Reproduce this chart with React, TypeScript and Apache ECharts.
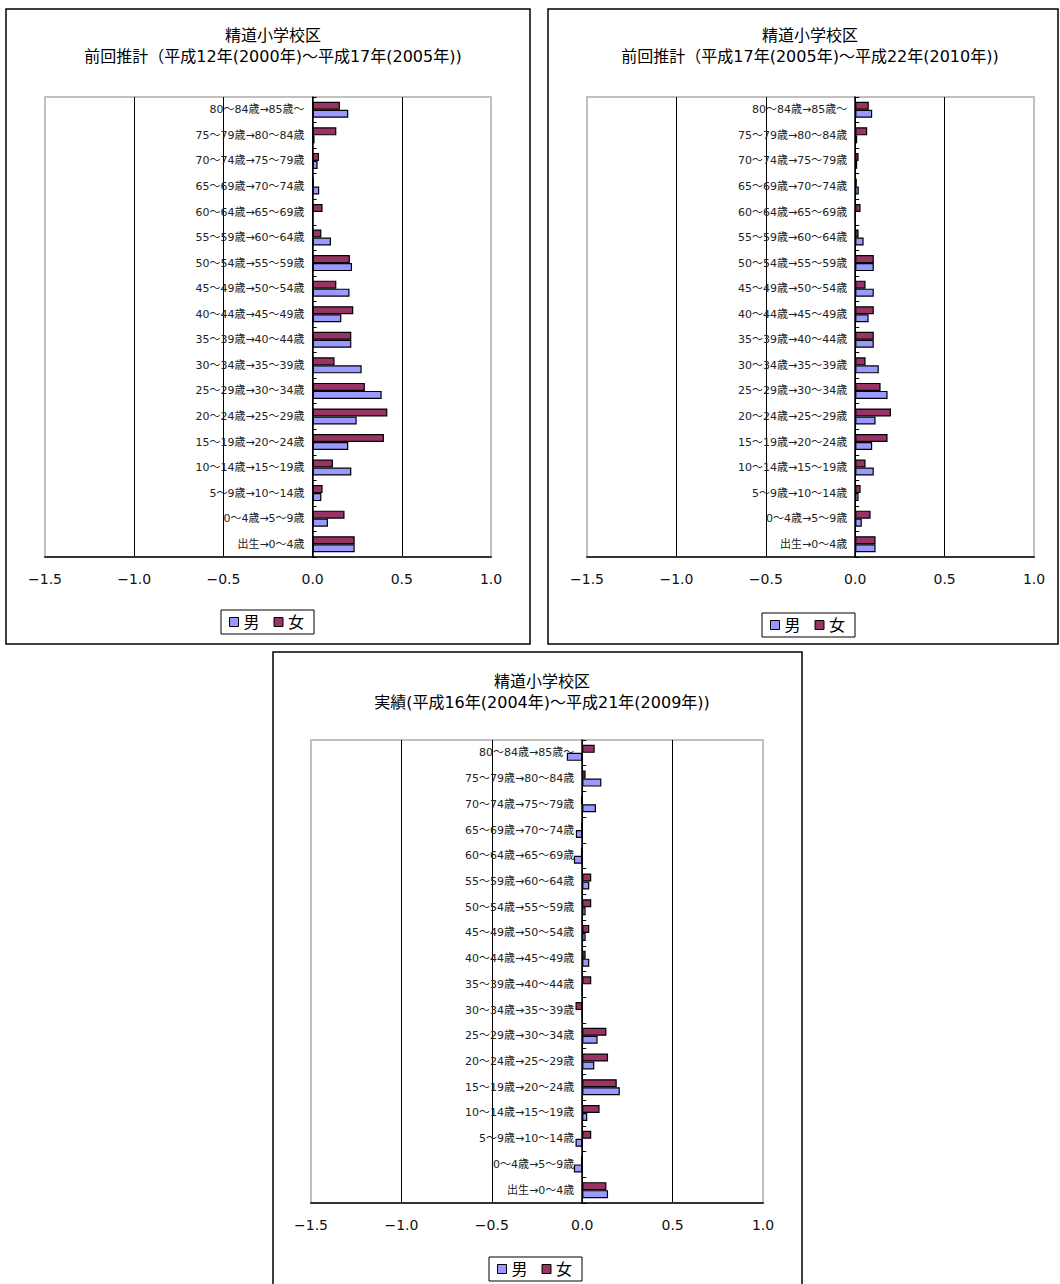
import React, { useEffect, useRef } from "react";
import * as echarts from "echarts";

const categories = [
  "出生→0～4歳",
  "0～4歳→5～9歳",
  "5～9歳→10～14歳",
  "10～14歳→15～19歳",
  "15～19歳→20～24歳",
  "20～24歳→25～29歳",
  "25～29歳→30～34歳",
  "30～34歳→35～39歳",
  "35～39歳→40～44歳",
  "40～44歳→45～49歳",
  "45～49歳→50～54歳",
  "50～54歳→55～59歳",
  "55～59歳→60～64歳",
  "60～64歳→65～69歳",
  "65～69歳→70～74歳",
  "70～74歳→75～79歳",
  "75～79歳→80～84歳",
  "80～84歳→85歳～",
];

const titles = [
  "精道小学校区\n前回推計（平成12年(2000年)～平成17年(2005年))",
  "精道小学校区\n前回推計（平成17年(2005年)～平成22年(2010年))",
  "精道小学校区\n実績(平成16年(2004年)～平成21年(2009年))",
];

const legendNames = ["男", "女"];

const male1 = [0.236, 0.086, 0.049, 0.217, 0.2, 0.247, 0.387, 0.275, 0.217, 0.161, 0.207, 0.221, 0.103, 0, 0.037, 0.028, 0.011, 0.2];
const female1 = [0.236, 0.179, 0.056, 0.114, 0.4, 0.419, 0.293, 0.123, 0.217, 0.228, 0.133, 0.209, 0.049, 0.056, 0.007, 0.036, 0.133, 0.153];

const male2 = [0.114, 0.037, 0.019, 0.104, 0.095, 0.114, 0.181, 0.132, 0.104, 0.075, 0.104, 0.104, 0.047, 0, 0.02, 0.011, 0.011, 0.095];
const female2 = [0.114, 0.086, 0.03, 0.058, 0.181, 0.2, 0.142, 0.058, 0.104, 0.104, 0.058, 0.104, 0.019, 0.03, 0.009, 0.019, 0.067, 0.076];

const male3 = [0.143, -0.046, -0.037, 0.028, 0.208, 0.067, 0.085, 0, 0, 0.039, 0.019, 0.019, 0.039, -0.046, -0.035, 0.076, 0.106, -0.085];
const female3 = [0.134, -0.007, 0.05, 0.096, 0.191, 0.143, 0.134, -0.037, 0.05, 0.019, 0.039, 0.05, 0.05, -0.007, -0.006, -0.007, 0.019, 0.069];

const xMin = -1.5;
const xMax = 1.0;
const xInterval = 0.5;

const maleData = [male1, male2, male3];
const femaleData = [female1, female2, female3];

const FONT = "'DejaVu Sans', 'Noto Sans CJK JP', sans-serif";
const MALE_COLOR = "#9999FF";
const FEMALE_COLOR = "#993366";

// layout of each panel
const panels = [
  { box: [6, 9, 524, 635], grid: [45, 97, 446, 460], titleX: 268, titleY: 20, legendX: 221, legendY: 610 },
  { box: [548, 9, 510, 635], grid: [587, 97, 447, 460], titleX: 805, titleY: 20, legendX: 762, legendY: 613 },
  { box: [273, 652, 529, 660], grid: [311, 740, 452, 463], titleX: 537, titleY: 666, legendX: 489, legendY: 1257 },
];

export default function App() {
  const ref = useRef<HTMLDivElement>(null);
  useEffect(() => {
    if (!ref.current) return;
    const chart = echarts.init(ref.current, null, { renderer: "svg" });

    const grids: any[] = [];
    const xAxes: any[] = [];
    const yAxes: any[] = [];
    const series: any[] = [];
    const legends: any[] = [];
    const titleOpts: any[] = [];
    const graphics: any[] = [];

    panels.forEach((p, i) => {
      graphics.push({
        type: "rect",
        shape: { x: p.box[0], y: p.box[1], width: p.box[2], height: p.box[3] },
        style: { fill: "none", stroke: "#000", lineWidth: 1.5 },
        z: -10,
      });
      grids.push({
        left: p.grid[0],
        top: p.grid[1],
        width: p.grid[2],
        height: p.grid[3],
        outerBoundsMode: "none",
        containLabel: false,
        show: true,
        borderColor: "#c0c0c0",
        borderWidth: 2,
        backgroundColor: "#fff",
      });
      xAxes.push({
        type: "value",
        gridIndex: i,
        min: xMin,
        max: xMax,
        interval: xInterval,
        axisLine: { show: true, onZero: false, lineStyle: { color: "#333", width: 2 } },
        axisTick: { show: false },
        splitLine: { show: true, showMinLine: false, showMaxLine: false, lineStyle: { color: "#000", width: 1 } },
        axisLabel: {
          fontFamily: FONT,
          fontSize: 14,
          color: "#111",
          margin: 15,
          formatter: (v: number) => (v < 0 ? "−" + Math.abs(v).toFixed(1) : v.toFixed(1)),
        },
      });
      // place the category axis (line, ticks, labels) at x = 0
      const zeroOffset = (p.grid[2] * (0 - xMin)) / (xMax - xMin);
      yAxes.push({
        type: "category",
        gridIndex: i,
        data: categories,
        position: "left",
        offset: -zeroOffset,
        axisLine: { show: true, onZero: false, lineStyle: { color: "#000", width: 1.5 } },
        axisTick: { show: true, inside: true, length: 4, lineStyle: { color: "#000" } },
        axisLabel: { fontFamily: FONT, fontSize: 11, color: "#222", margin: 8, interval: 0 },
        splitLine: { show: false },
        z: 5,
      });
      series.push({
        name: "女",
        type: "bar",
        xAxisIndex: i,
        yAxisIndex: i,
        data: femaleData[i],
        barWidth: 8,
        barGap: "0%",
        itemStyle: { color: FEMALE_COLOR, borderColor: "#000", borderWidth: 1.2 },
      });
      series.push({
        name: "男",
        type: "bar",
        xAxisIndex: i,
        yAxisIndex: i,
        data: maleData[i],
        barWidth: 8,
        barGap: "0%",
        itemStyle: { color: MALE_COLOR, borderColor: "#000", borderWidth: 1.2 },
      });
      legends.push({
        data: legendNames,
        left: p.legendX,
        top: p.legendY,
        orient: "horizontal",
        icon: "rect",
        itemWidth: 9,
        itemHeight: 9,
        itemGap: 14,
        padding: [4, 10, 4, 8],
        borderColor: "#000",
        borderWidth: 1,
        selectedMode: false,
        textStyle: { fontFamily: FONT, fontSize: 16, color: "#000" },
        itemStyle: { borderColor: "#000", borderWidth: 1 },
      });
      titleOpts.push({
        text: titles[i],
        left: p.titleX,
        top: p.titleY,
        textAlign: "center",
        textStyle: { fontFamily: FONT, fontSize: 16, fontWeight: "normal", color: "#000", lineHeight: 21 },
      });
    });

    chart.setOption({
      animation: false,
      backgroundColor: "#fff",
      title: titleOpts,
      legend: legends,
      grid: grids,
      xAxis: xAxes,
      yAxis: yAxes,
      series,
      graphic: graphics,
    });
    return () => chart.dispose();
  }, []);
  return (
    <div
      ref={ref}
      style={{ position: "absolute", left: 0, top: 0, width: 1060, height: 1284 }}
    />
  );
}
